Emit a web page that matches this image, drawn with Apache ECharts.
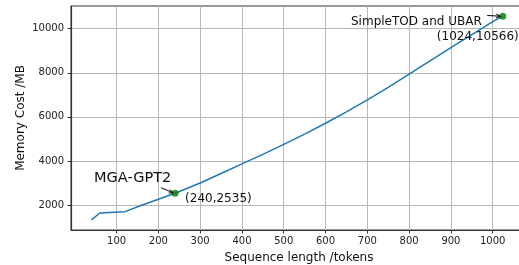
<!DOCTYPE html>
<html>
<head>
<meta charset="utf-8">
<script src="https://cdn.jsdelivr.net/npm/echarts@6/dist/echarts.min.js"></script>
<style>
html, body { margin: 0; padding: 0; background: #fff; }
#main { width: 519px; height: 265px; }
</style>
</head>
<body>
<div id="main"></div>
<script>
// sequence length (tokens) and memory cost (MB)
var seqLen = [40, 60, 120, 160, 200, 240, 300, 350, 400, 450, 500, 550, 600, 650, 700, 750, 800, 850, 900, 950, 1000, 1024];
var memCost = [1330, 1640, 1700, 1990, 2260, 2535, 3000, 3430, 3870, 4300, 4750, 5220, 5710, 6230, 6770, 7340, 7940, 8540, 9140, 9730, 10320, 10566];

// highlighted models
var hlNames = ['MGA-GPT2', 'SimpleTOD and UBAR'];
var hlPoints = [[240, 2535], [1024, 10566]];

var xTicks = [100, 200, 300, 400, 500, 600, 700, 800, 900, 1000];
var yTicks = [2000, 4000, 6000, 8000, 10000];

var font = 'DejaVu Sans';

var chart = echarts.init(document.getElementById('main'));

var lineData = [];
for (var i = 0; i < seqLen.length; i++) {
	lineData.push([seqLen[i], memCost[i]]);
}

var plain = function(v) { return String(v); };

var option = {
	animation : false,
	grid : {
		left : 71,
		top : 6,
		width : 456,
		height : 224,
		outerBoundsMode : 'none',
		containLabel : false,
		show : true,
		borderColor : '#333',
		borderWidth : 1
	},
	xAxis : {
		type : 'value',
		min : -9,
		max : 1082,
		name : 'Sequence length /tokens',
		nameLocation : 'middle',
		nameGap : 22,
		nameMoveOverlap : false,
		nameTextStyle : { fontFamily : font, fontSize : 12, color : '#111' },
		axisLine : { show : true, onZero : false, lineStyle : { color : '#333', width : 1.2 } },
		axisTick : { show : true, length : 3.5, customValues : xTicks, lineStyle : { color : '#333' } },
		axisLabel : { customValues : xTicks, formatter : plain, margin : 6, fontFamily : font, fontSize : 10, color : '#222' },
		splitLine : { show : true, lineStyle : { color : '#b8b8b8', width : 1 } }
	},
	yAxis : {
		type : 'value',
		min : 868,
		max : 11028,
		name : 'Memory Cost /MB',
		nameLocation : 'middle',
		nameGap : 44,
		nameMoveOverlap : false,
		nameTextStyle : { fontFamily : font, fontSize : 12, color : '#111' },
		axisLine : { show : true, onZero : false, lineStyle : { color : '#333', width : 1.2 } },
		axisTick : { show : true, length : 3.5, customValues : yTicks, lineStyle : { color : '#333' } },
		axisLabel : { customValues : yTicks, formatter : plain, margin : 7, fontFamily : font, fontSize : 10, color : '#222' },
		splitLine : { show : true, lineStyle : { color : '#b8b8b8', width : 1 } }
	},
	series : [ {
		type : 'line',
		data : lineData,
		showSymbol : false,
		lineStyle : { color : '#1f77b4', width : 1.5 },
		z : 2
	}, {
		type : 'scatter',
		data : hlPoints,
		symbolSize : 7,
		itemStyle : { color : '#008000' },
		z : 3
	} ]
};
chart.setOption(option);

// annotations: text + arrow, offsets in pixels from the point
function arrow(x1, y1, x2, y2) {
	var a = Math.atan2(y2 - y1, x2 - x1);
	var h = 4.5, w = 0.45;
	return [ {
		type : 'line',
		shape : { x1 : x1, y1 : y1, x2 : x2, y2 : y2 },
		style : { stroke : '#000', lineWidth : 1 },
		z : 10
	}, {
		type : 'polyline',
		shape : { points : [
			[x2 - h * Math.cos(a - w), y2 - h * Math.sin(a - w)],
			[x2, y2],
			[x2 - h * Math.cos(a + w), y2 - h * Math.sin(a + w)]
		] },
		style : { stroke : '#000', lineWidth : 1, fill : null },
		z : 10
	} ];
}

var p1 = chart.convertToPixel({ gridIndex : 0 }, hlPoints[0]);
var p2 = chart.convertToPixel({ gridIndex : 0 }, hlPoints[1]);

var g = [];
g.push({ type : 'text', x : p1[0] - 81, y : p1[1] - 15,
	style : { text : hlNames[0], font : '14.5px "DejaVu Sans"', fill : '#111', verticalAlign : 'middle', align : 'left' }, z : 10 });
g.push({ type : 'text', x : p1[0] + 10, y : p1[1] + 6,
	style : { text : '(' + hlPoints[0][0] + ',' + hlPoints[0][1] + ')', font : '12px "DejaVu Sans"', fill : '#111', verticalAlign : 'middle', align : 'left' }, z : 10 });
g = g.concat(arrow(p1[0] - 14, p1[1] - 5.5, p1[0] - 2, p1[1] - 0.5));

g.push({ type : 'text', x : p2[0] - 21, y : p2[1] + 6,
	style : { text : hlNames[1], font : '12px "DejaVu Sans"', fill : '#111', verticalAlign : 'middle', align : 'right' }, z : 10 });
g.push({ type : 'text', x : p2[0] + 16, y : p2[1] + 21,
	style : { text : '(' + hlPoints[1][0] + ',' + hlPoints[1][1] + ')', font : '12px "DejaVu Sans"', fill : '#111', verticalAlign : 'middle', align : 'right' }, z : 10 });
g = g.concat(arrow(p2[0] - 15.5, p2[1] - 0.7, p2[0] - 2.5, p2[1]));

chart.setOption({ graphic : g });
</script>
</body>
</html>
